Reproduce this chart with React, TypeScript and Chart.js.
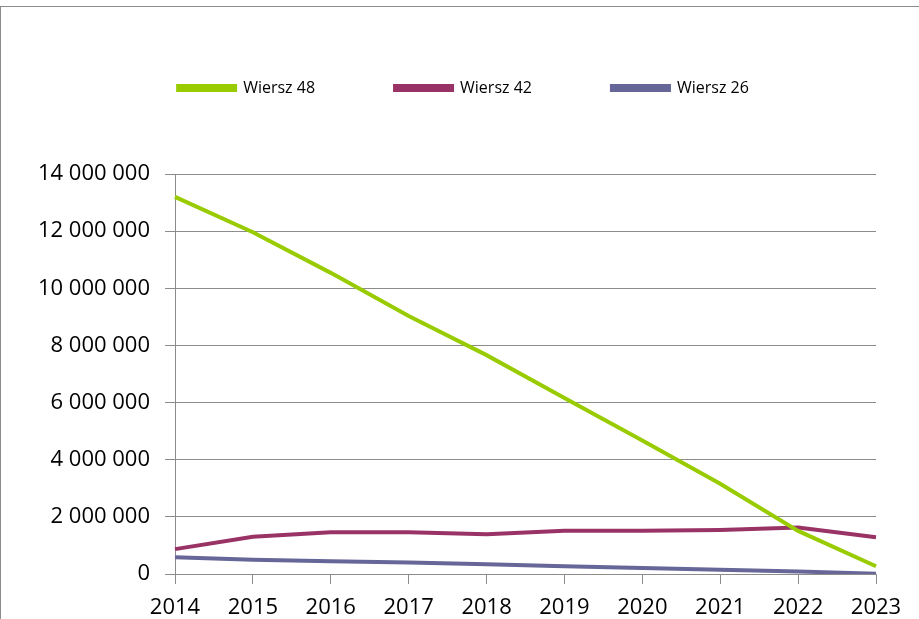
import React, { useEffect, useRef } from 'react';
import { Chart, registerables } from 'chart.js';

Chart.register(...registerables);

const years = ['2014', '2015', '2016', '2017', '2018', '2019', '2020', '2021', '2022', '2023'];
const wiersz48 = [13200000, 11960000, 10540000, 9030000, 7660000, 6160000, 4670000, 3160000, 1510000, 270000];
const wiersz42 = [870000, 1300000, 1460000, 1460000, 1390000, 1510000, 1510000, 1540000, 1630000, 1290000];
const wiersz26 = [590000, 500000, 450000, 400000, 340000, 270000, 210000, 150000, 90000, 10000];
const seriesNames = ['Wiersz 48', 'Wiersz 42', 'Wiersz 26'];
const seriesColors = ['#99cc00', '#993366', '#666699'];
const yMin = 0;
const yMax = 14000000;
const yStep = 2000000;

const fmt = (v: number) => String(Math.round(v)).replace(/\B(?=(\d{3})+(?!\d))/g, ' ');

export default function App() {
  const ref = useRef<HTMLCanvasElement>(null);
  useEffect(() => {
    document.body.style.margin = '0';
    const font = 'Open Sans';
    const gridColor = '#8c8c8c';
    const values = [wiersz48, wiersz42, wiersz26];
    const chart = new Chart(ref.current!, {
      type: 'line',
      data: {
        labels: years,
        datasets: values.map((d, i) => ({
          label: seriesNames[i],
          data: d,
          borderColor: seriesColors[i],
          backgroundColor: seriesColors[i],
          borderWidth: 4,
          pointRadius: 0,
          tension: 0,
          fill: false,
        })),
      },
      options: {
        responsive: false,
        animation: false,
        layout: { padding: { left: 8, right: 0, top: 0, bottom: 0 } },
        plugins: {
          legend: {
            position: 'top',
            labels: {
              boxWidth: 57,
              boxHeight: 4,
              padding: 80,
              color: '#000',
              font: { family: font, size: 16 },
            },
          },
          title: {
            display: true,
            text: ' ',
            weight: 500,
            font: { size: 10 },
            padding: { top: 0, bottom: 56 },
          } as any,
          tooltip: { enabled: false },
        },
        scales: {
          x: {
            offset: false,
            afterFit: (s: any) => { s.height = 45; },
            ticks: {
              padding: 11,
              color: '#000',
              maxRotation: 0,
              autoSkip: false,
              font: { family: font, size: 22 },
            },
            grid: { drawOnChartArea: false, drawTicks: true, tickLength: 10, color: gridColor, offset: false },
            border: { display: true, color: gridColor },
          },
          y: {
            min: yMin,
            max: yMax,
            afterFit: (s: any) => { s.width = 167; },
            ticks: {
              stepSize: yStep,
              padding: 15,
              color: '#000',
              font: { family: font, size: 22 },
              callback: (v: any) => fmt(Number(v)),
            },
            grid: { color: gridColor, tickLength: 10, drawTicks: true },
            border: { display: true, color: gridColor },
          },
          y2: {
            position: 'right',
            display: true,
            afterFit: (s: any) => { s.width = 43; },
            ticks: { display: false },
            grid: { display: false },
            border: { display: false },
          },
        },
      },
    });
    return () => chart.destroy();
  }, []);
  return (
    <div style={{ position: 'relative', width: 919, height: 619, overflow: 'hidden' }}>
      <canvas ref={ref} width={919} height={619} style={{ position: 'absolute', left: 0, top: 0 }} />
      <div
        style={{
          position: 'absolute',
          left: 0,
          top: 6,
          right: 0,
          bottom: 0,
          borderTop: '1px solid #8c8c8c',
          borderLeft: '1px solid #8c8c8c',
          pointerEvents: 'none',
        }}
      />
    </div>
  );
}
